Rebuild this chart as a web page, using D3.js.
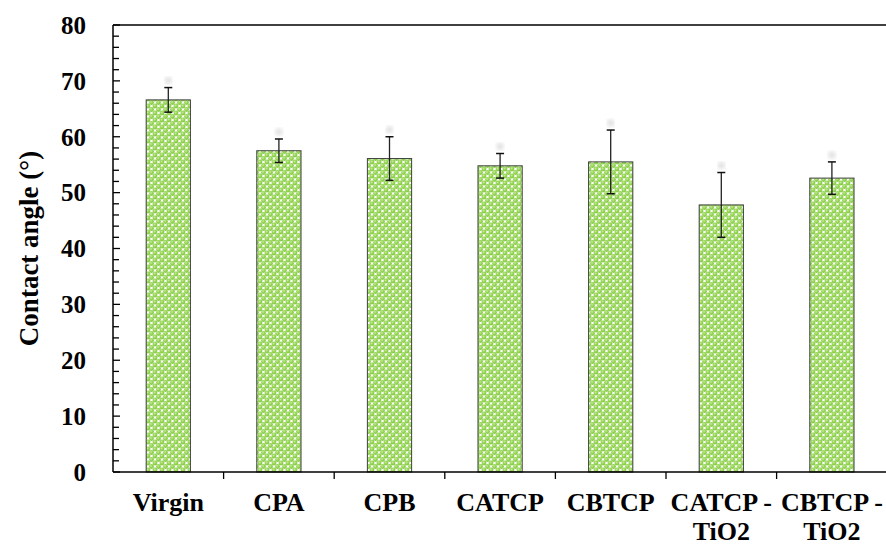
<!DOCTYPE html>
<html>
<head>
<meta charset="utf-8">
<script src="https://cdn.jsdelivr.net/npm/d3@7"></script>
<style>
  html, body { margin: 0; padding: 0; background: #fff; }
  svg { display: block; }
  text { font-family: "Liberation Serif", "Times New Roman", serif; font-weight: bold; fill: #000; }
</style>
</head>
<body>
<svg id="chart" width="886" height="545"></svg>
<script>
// Contact angle per membrane, with standard deviation
const categories = [["Virgin"], ["CPA"], ["CPB"], ["CATCP"], ["CBTCP"], ["CATCP -", "TiO2"], ["CBTCP -", "TiO2"]];
const angles = [66.6, 57.5, 56.1, 54.8, 55.5, 47.8, 52.6];
const errors = [2.2, 2.1, 3.9, 2.2, 5.7, 5.8, 2.9];
const yTicks = [0, 10, 20, 30, 40, 50, 60, 70, 80];
const yTitle = "Contact angle (°)";

const svg = d3.select("#chart");
const margin = { left: 113, right: 0, top: 25, bottom: 73 };
const W = 886, H = 545;

const x = d3.scaleBand()
  .domain(d3.range(categories.length))
  .range([margin.left, margin.left + 110.6 * categories.length])
  .paddingInner(0.6).paddingOuter(0.3);
const xBoundary = d3.scaleLinear().domain([0, categories.length]).range([margin.left, margin.left + 110.6 * categories.length]);
const y = d3.scaleLinear().domain([0, 80]).range([H - margin.bottom, margin.top]);

// Dotted green fill: offset rows of shaded green beads on white
const defs = svg.append("defs");
const grad = defs.append("radialGradient").attr("id", "ball").attr("cx", "42%").attr("cy", "38%").attr("r", "60%");
grad.append("stop").attr("offset", "0%").attr("stop-color", "#c8ee9e");
grad.append("stop").attr("offset", "50%").attr("stop-color", "#96d654");
grad.append("stop").attr("offset", "100%").attr("stop-color", "#82c642");
const P = 7;
const pat = defs.append("pattern").attr("id", "dots").attr("patternUnits", "userSpaceOnUse")
  .attr("width", P).attr("height", P);
pat.append("rect").attr("width", P).attr("height", P).attr("fill", "#fff");
[[0, 0], [P, 0], [0, P], [P, P], [P / 2, P / 2],
 [-P / 2, P / 2], [P / 2, -P / 2], [P / 2, P * 1.5], [P * 1.5, P / 2]].forEach(([cx, cy]) => {
  pat.append("circle").attr("cx", cx + 1).attr("cy", cy + 1).attr("r", 2.4).attr("fill", "url(#ball)");
});
defs.append("filter").attr("id", "soft").append("feGaussianBlur").attr("stdDeviation", 2);

// Bars
svg.append("g").selectAll("rect").data(angles).join("rect")
  .attr("x", (d, i) => x(i))
  .attr("width", x.bandwidth())
  .attr("y", d => y(d))
  .attr("height", d => y(0) - y(d))
  .attr("fill", "url(#dots)")
  .attr("stroke", "#404040").attr("stroke-width", 1);

// Error bars
const eb = svg.append("g");
angles.forEach((d, i) => {
  const cx = x(i) + x.bandwidth() / 2;
  eb.append("circle").attr("cx", cx).attr("cy", y(d + errors[i]) - 7).attr("r", 3.5)
    .attr("fill", "#bbb").attr("opacity", 0.5).attr("filter", "url(#soft)");
  eb.append("line").attr("x1", cx).attr("x2", cx).attr("y1", y(d + errors[i])).attr("y2", y(d - errors[i]))
    .attr("stroke", "#222").attr("stroke-width", 1.3);
  [d + errors[i], d - errors[i]].forEach(v => {
    eb.append("line").attr("x1", cx - 4).attr("x2", cx + 4).attr("y1", y(v)).attr("y2", y(v))
      .attr("stroke", "#111").attr("stroke-width", 1.5);
  });
});

// Frame line along the top
svg.append("line").attr("x1", margin.left).attr("x2", W).attr("y1", y(80)).attr("y2", y(80))
  .attr("stroke", "#000").attr("stroke-width", 1.3);

// Y axis with inward ticks
const yAxis = svg.append("g").attr("transform", `translate(${margin.left},0)`);
yAxis.append("line").attr("x1", 0).attr("x2", 0).attr("y1", y(80)).attr("y2", y(0)).attr("stroke", "#000").attr("stroke-width", 1.5);
d3.range(0, 81, 2).forEach(v => {
  const major = v % 10 === 0;
  yAxis.append("line").attr("x1", 0).attr("x2", major ? 7 : 6).attr("y1", y(v)).attr("y2", y(v))
    .attr("stroke", "#000").attr("stroke-width", 1.3);
});
yAxis.selectAll("text.tick").data(yTicks).join("text").attr("class", "tick")
  .attr("x", -27).attr("y", d => y(d)).attr("dy", "0.35em")
  .attr("text-anchor", "end").attr("font-size", 25).text(d => d);

// X axis
const xAxis = svg.append("g");
xAxis.append("line").attr("x1", margin.left).attr("x2", W).attr("y1", y(0)).attr("y2", y(0)).attr("stroke", "#000").attr("stroke-width", 1.5);
d3.range(1, categories.length).forEach(k => {
  xAxis.append("line").attr("x1", xBoundary(k)).attr("x2", xBoundary(k)).attr("y1", y(0)).attr("y2", y(0) + 7)
    .attr("stroke", "#000").attr("stroke-width", 1.3);
});
categories.forEach((lines, i) => {
  const t = xAxis.append("text").attr("x", x(i) + x.bandwidth() / 2).attr("y", 511)
    .attr("text-anchor", "middle").attr("font-size", 26);
  lines.forEach((s, j) => t.append("tspan").attr("x", x(i) + x.bandwidth() / 2).attr("dy", j ? 29 : 0).text(s));
});

// Y title
svg.append("text").attr("transform", `translate(38,${(y(0) + y(80)) / 2}) rotate(-90)`)
  .attr("text-anchor", "middle").attr("font-size", 27).text(yTitle);
</script>
</body>
</html>
